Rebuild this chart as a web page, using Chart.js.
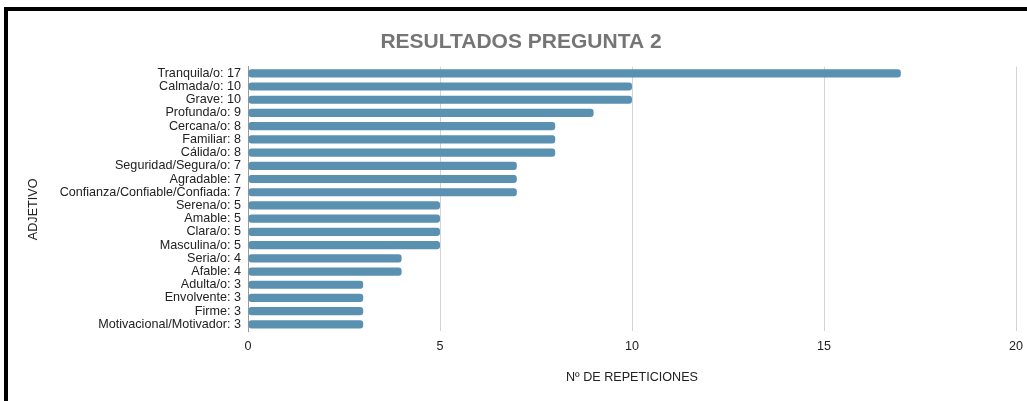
<!DOCTYPE html>
<html>
<head>
<meta charset="utf-8">
<script src="https://cdn.jsdelivr.net/npm/chart.js@4"></script>
<style>
  html, body { margin: 0; padding: 0; background: #fff; }
  #wrap { position: relative; width: 1027px; height: 401px; overflow: hidden; }
  #frame { position: absolute; left: 4px; top: 7px; width: 1030px; height: 400px;
           border-top: 4px solid #000; border-left: 4px solid #000; pointer-events: none; }
  canvas { position: absolute; left: 0; top: 0; }
</style>
</head>
<body>
<div id="wrap">
  <canvas id="c" width="1027" height="401"></canvas>
  <div id="frame"></div>
</div>
<script>
const categories = [
  "Tranquila/o: 17", "Calmada/o: 10", "Grave: 10", "Profunda/o: 9", "Cercana/o: 8",
  "Familiar: 8", "Cálida/o: 8", "Seguridad/Segura/o: 7", "Agradable: 7",
  "Confianza/Confiable/Confiada: 7", "Serena/o: 5", "Amable: 5", "Clara/o: 5",
  "Masculina/o: 5", "Seria/o: 4", "Afable: 4", "Adulta/o: 3", "Envolvente: 3",
  "Firme: 3", "Motivacional/Motivador: 3"
];
const repeticiones = [17, 10, 10, 9, 8, 8, 8, 7, 7, 7, 5, 5, 5, 5, 4, 4, 3, 3, 3, 3];
const xTicks = [0, 5, 10, 15, 20];
const chartTitle = "RESULTADOS PREGUNTA 2";
const xTitle = "Nº DE REPETICIONES";
const yTitle = "ADJETIVO";

const FONT = "'Liberation Sans', Arial, sans-serif";
const FS = 12.6;

new Chart(document.getElementById('c'), {
  type: 'bar',
  data: {
    labels: categories,
    datasets: [{
      data: repeticiones,
      backgroundColor: '#5a91b0',
      borderRadius: 3,
      borderSkipped: false,
      barPercentage: 0.62,
      categoryPercentage: 1
    }]
  },
  options: {
    indexAxis: 'y',
    responsive: false,
    animation: false,
    devicePixelRatio: 1,
    layout: { padding: { left: 26, right: 11, top: 0, bottom: 0 } },
    plugins: {
      legend: { display: false },
      tooltip: { enabled: false },
      title: {
        display: true,
        text: chartTitle,
        color: '#757575',
        font: { family: FONT, size: 21, weight: 'bold' },
        padding: { top: 29.5, bottom: 12 }
      }
    },
    scales: {
      x: {
        type: 'linear',
        min: 0, max: 20,
        afterBuildTicks: (s) => { s.ticks = xTicks.map(v => ({ value: v })); },
        afterFit: (s) => { s.height = 70; s.paddingRight = 0; s.paddingLeft = 0; },
        ticks: { color: '#222', font: { family: FONT, size: FS }, padding: 8 },
        grid: { color: '#d3d3d3', drawTicks: false, lineWidth: 1 },
        border: { display: false },
        title: {
          display: true, text: xTitle, color: '#222',
          font: { family: FONT, size: FS },
          padding: { top: 0, bottom: 15.5 }
        }
      },
      y: {
        type: 'category',
        afterFit: (s) => { s.width = 222; },
        ticks: { color: '#222', font: { family: FONT, size: FS }, padding: 7, autoSkip: false },
        grid: { display: false, drawTicks: false },
        border: { display: true, color: '#9a9a9a', width: 1 },
        title: {
          display: true, text: yTitle + '      ', color: '#222',
          font: { family: FONT, size: FS },
          padding: { top: 0, bottom: 0 }
        }
      }
    }
  }
});
</script>
</body>
</html>
